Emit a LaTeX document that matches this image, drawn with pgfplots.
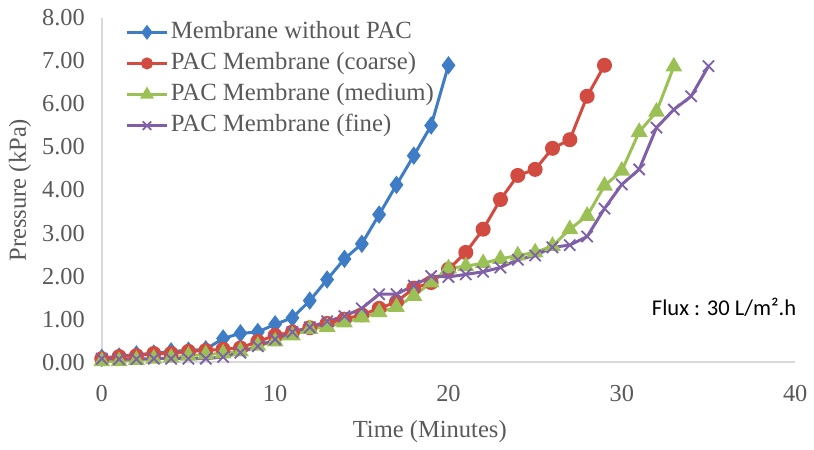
\documentclass[border=0pt]{standalone}
\usepackage{fontspec}
\setmainfont{Liberation Serif}
\newfontfamily\fluxfont{Carlito}
\usepackage{pgfplots}
\pgfplotsset{compat=1.18}
\definecolor{cblue}{HTML}{3F7CC6}
\definecolor{cred}{HTML}{D24B40}
\definecolor{cgreen}{HTML}{9BC156}
\definecolor{cpurple}{HTML}{7F5FA8}
\definecolor{txtgray}{HTML}{595959}
\definecolor{axgray}{HTML}{D9D9D9}

\begin{document}
\begin{tikzpicture}
\begin{axis}[
  at={(0,0)}, anchor=south west,
  scale only axis, width=347.5pt, height=172.5pt,
  xmin=0, xmax=40, ymin=0, ymax=8,
  xtick={0,10,20,30,40}, ytick={0,1,...,8},
  axis x line*=bottom, axis y line*=left,
  axis line style={draw=axgray, line width=0.8pt},
  major tick length=0pt,
  tick label style={font=\fontsize{12.2}{14}\selectfont, text=txtgray},
  /pgf/number format/assume math mode=true,
  yticklabel style={xshift=-5pt, /pgf/number format/fixed, /pgf/number format/fixed zerofill, /pgf/number format/precision=2},
  xticklabel style={yshift=-8pt},
  xlabel={Time (Minutes)}, ylabel={Pressure (kPa)},
  label style={font=\fontsize{12.3}{14}\selectfont, text=txtgray},
  xlabel style={at={(axis description cs:0.473,-0.203)}, anchor=center},
  ylabel style={at={(axis description cs:-0.118,0.5)}, anchor=center},
  legend style={at={(axis description cs:0.033,1.0)}, anchor=north west, draw=none, fill=none,
    inner sep=0pt, row sep=1.6pt, font=\fontsize{12.4}{14}\selectfont,
    nodes={inner sep=1pt, text height=9pt, text depth=3pt, text=txtgray}},
  legend cell align=left,
  legend image code/.code={\draw[mark repeat=2,mark phase=2,every mark/.append style={scale=0.75}]
    plot coordinates {(0cm,0cm) (0.36cm,0cm) (0.72cm,0cm)};},
  every axis plot/.append style={line width=1.5pt},
  clip=false,
]
\addplot[color=cblue, mark=diamond*, mark size=3.4pt, mark options={solid}] coordinates {
(0,0.10) (1,0.13) (2,0.18) (3,0.20) (4,0.25) (5,0.27) (6,0.30) (7,0.55) (8,0.67) (9,0.70)
(10,0.88) (11,1.03) (12,1.43) (13,1.92) (14,2.40) (15,2.75) (16,3.43) (17,4.12) (18,4.80)
(19,5.50) (20,6.90)};
\addlegendentry{Membrane without PAC}
\addplot[color=cred, mark=*, mark size=3pt, mark options={solid}] coordinates {
(0,0.08) (1,0.13) (2,0.15) (3,0.20) (4,0.20) (5,0.25) (6,0.27) (7,0.30) (8,0.33) (9,0.48)
(10,0.62) (11,0.70) (12,0.80) (13,0.90) (14,1.00) (15,1.10) (16,1.25) (17,1.40) (18,1.72)
(19,1.85) (20,2.16) (21,2.55) (22,3.09) (23,3.78) (24,4.34) (25,4.48) (26,4.97) (27,5.17)
(28,6.18) (29,6.90)};
\addlegendentry{PAC Membrane (coarse)}
\addplot[color=cgreen, mark=triangle*, mark size=3.4pt, mark options={solid}] coordinates {
(0,0.02) (1,0.02) (2,0.05) (3,0.08) (4,0.10) (5,0.15) (6,0.18) (7,0.20) (8,0.25) (9,0.38)
(10,0.48) (11,0.62) (12,0.77) (13,0.82) (14,0.92) (15,1.04) (16,1.16) (17,1.28) (18,1.54)
(19,1.85) (20,2.18) (21,2.23) (22,2.30) (23,2.40) (24,2.48) (25,2.55) (26,2.70) (27,3.09)
(28,3.40) (29,4.10) (30,4.45) (31,5.35) (32,5.82) (33,6.87)};
\addlegendentry{PAC Membrane (medium)}
\addplot[color=cpurple, mark=x, mark size=4pt, mark options={solid, line width=0.9pt}] coordinates {
(0,0.08) (1,0.07) (2,0.07) (3,0.08) (4,0.08) (5,0.08) (6,0.08) (7,0.12) (8,0.22) (9,0.37)
(10,0.53) (11,0.70) (12,0.81) (13,0.95) (14,1.07) (15,1.25) (16,1.58) (17,1.58) (18,1.78)
(19,2.00) (20,1.98) (21,2.04) (22,2.10) (23,2.20) (24,2.38) (25,2.48) (26,2.67) (27,2.72)
(28,2.92) (29,3.57) (30,4.13) (31,4.48) (32,5.45) (33,5.87) (34,6.18) (35,6.88)};
\addlegendentry{PAC Membrane (fine)}
\node[font=\fluxfont\fontsize{11.3}{13}\selectfont, text=black, anchor=center] at (axis cs:35.9,1.28) {Flux : 30 L/m²{}.h};
\end{axis}
\path (-51pt,-42.5pt) rectangle (356pt,181.5pt);
\end{tikzpicture}
\end{document}
